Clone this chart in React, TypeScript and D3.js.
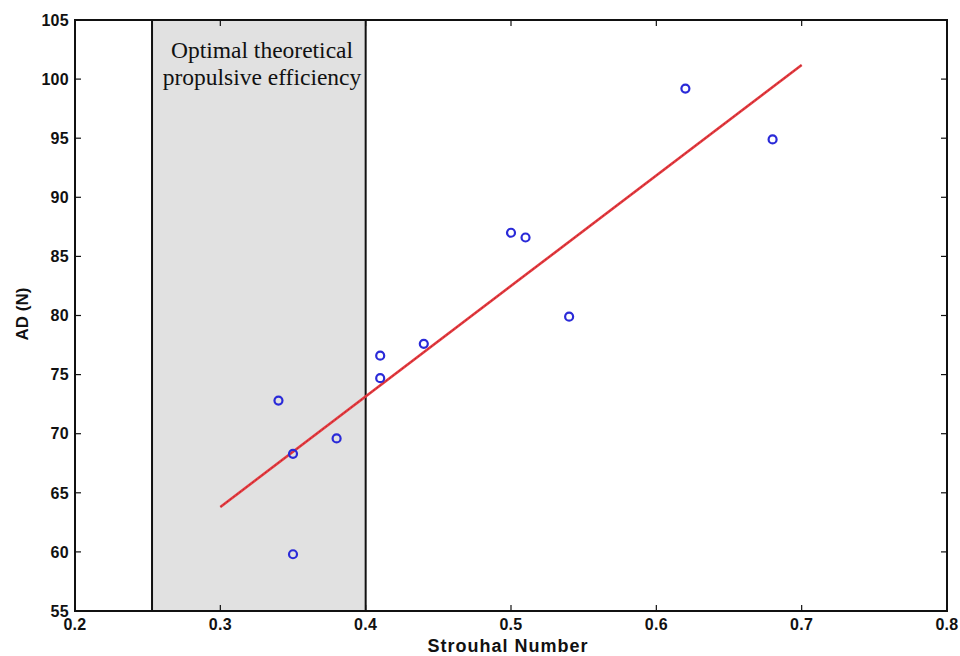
import React, { useEffect, useRef } from "react";
import * as d3 from "d3";

// Measured samples: Strouhal number vs. AD (N)
const strouhal = [0.34, 0.35, 0.35, 0.38, 0.41, 0.41, 0.44, 0.5, 0.51, 0.54, 0.62, 0.68];
const adForce = [72.8, 68.3, 59.8, 69.6, 76.6, 74.7, 77.6, 87.0, 86.6, 79.9, 99.2, 94.9];

// Linear fit endpoints
const fitX = [0.3, 0.7];
const fitY = [63.8, 101.2];

// Optimal efficiency band
const bandX = [0.253, 0.4];

const xTicks = [0.2, 0.3, 0.4, 0.5, 0.6, 0.7, 0.8];
const yTicks = [55, 60, 65, 70, 75, 80, 85, 90, 95, 100, 105];

const W = 960;
const H = 656;
const M = { left: 75, right: 13, top: 20, bottom: 45 };

export default function App() {
  const ref = useRef<SVGSVGElement>(null);

  useEffect(() => {
    const svg = d3.select(ref.current);
    svg.selectAll("*").remove();

    const x = d3.scaleLinear().domain([0.2, 0.8]).range([M.left, W - M.right]);
    const y = d3.scaleLinear().domain([55, 105]).range([H - M.bottom, M.top]);

    const x0 = x.range()[0], x1 = x.range()[1];
    const y0 = y.range()[0], y1 = y.range()[1];

    svg.append("rect").attr("x", 0).attr("y", 0).attr("width", W).attr("height", H).attr("fill", "#fff");

    // Shaded band
    svg
      .append("rect")
      .attr("x", x(bandX[0]))
      .attr("y", y1)
      .attr("width", x(bandX[1]) - x(bandX[0]))
      .attr("height", y0 - y1)
      .attr("fill", "#e1e1e1")
      .attr("stroke", "none");
    bandX.forEach((b) =>
      svg
        .append("line")
        .attr("x1", x(b))
        .attr("x2", x(b))
        .attr("y1", y1)
        .attr("y2", y0)
        .attr("stroke", "#111")
        .attr("stroke-width", 2)
    );

    // Band label
    const lbl = svg
      .append("text")
      .attr("font-family", "'Liberation Serif', 'Times New Roman', serif")
      .attr("font-size", 23.5)
      .attr("fill", "#111")
      .attr("text-anchor", "middle");
    lbl.append("tspan").attr("x", 262).attr("y", 58).text("Optimal theoretical");
    lbl.append("tspan").attr("x", 262).attr("y", 85).text("propulsive efficiency");

    // Fit line
    const line = d3
      .line<number>()
      .x((_, i) => x(fitX[i]))
      .y((d) => y(d));
    svg
      .append("path")
      .attr("d", line(fitY))
      .attr("fill", "none")
      .attr("stroke", "#e8393f")
      .attr("stroke-width", 2.6);
    svg
      .append("path")
      .attr("d", line(fitY))
      .attr("fill", "none")
      .attr("stroke", "#8a2a2a")
      .attr("stroke-width", 1)
      .attr("stroke-dasharray", "2,2")
      .attr("opacity", 0.6);

    // Data markers
    svg
      .append("g")
      .selectAll("circle")
      .data(strouhal)
      .join("circle")
      .attr("cx", (d) => x(d))
      .attr("cy", (_, i) => y(adForce[i]))
      .attr("r", 4)
      .attr("fill", "none")
      .attr("stroke", "#2a2ad8")
      .attr("stroke-width", 2.2);

    // Axes box
    svg
      .append("rect")
      .attr("x", x0)
      .attr("y", y1)
      .attr("width", x1 - x0)
      .attr("height", y0 - y1)
      .attr("fill", "none")
      .attr("stroke", "#111")
      .attr("stroke-width", 2);

    const tickLen = 6;
    const font = "'Liberation Sans', Arial, sans-serif";

    // X ticks (inward top and bottom) and labels
    const gx = svg.append("g");
    xTicks.forEach((t) => {
      gx.append("line").attr("x1", x(t)).attr("x2", x(t)).attr("y1", y0).attr("y2", y0 - tickLen).attr("stroke", "#111").attr("stroke-width", 1.2);
      gx.append("line").attr("x1", x(t)).attr("x2", x(t)).attr("y1", y1).attr("y2", y1 + tickLen).attr("stroke", "#111").attr("stroke-width", 1.2);
      gx.append("text")
        .attr("x", x(t))
        .attr("y", y0 + 19)
        .attr("text-anchor", "middle")
        .attr("font-family", font)
        .attr("font-weight", "bold")
        .attr("font-size", 16)
        .attr("letter-spacing", 0.3)
        .attr("fill", "#111")
        .text(d3.format(".1f")(t));
    });

    // Y ticks (inward left and right) and labels
    const gy = svg.append("g");
    yTicks.forEach((t) => {
      gy.append("line").attr("x1", x0).attr("x2", x0 + tickLen).attr("y1", y(t)).attr("y2", y(t)).attr("stroke", "#111").attr("stroke-width", 1.2);
      gy.append("line").attr("x1", x1).attr("x2", x1 - tickLen).attr("y1", y(t)).attr("y2", y(t)).attr("stroke", "#111").attr("stroke-width", 1.2);
      gy.append("text")
        .attr("x", x0 - 6)
        .attr("y", y(t))
        .attr("dy", "0.36em")
        .attr("text-anchor", "end")
        .attr("font-family", font)
        .attr("font-weight", "bold")
        .attr("font-size", 16)
        .attr("letter-spacing", 0.3)
        .attr("fill", "#111")
        .text(String(t));
    });

    // Axis titles
    svg
      .append("text")
      .attr("x", 508)
      .attr("y", 652)
      .attr("text-anchor", "middle")
      .attr("font-family", font)
      .attr("font-weight", "bold")
      .attr("font-size", 18)
      .attr("letter-spacing", 1)
      .attr("fill", "#111")
      .text("Strouhal Number");

    svg
      .append("text")
      .attr("transform", `translate(28,314) rotate(-90)`)
      .attr("text-anchor", "middle")
      .attr("font-family", font)
      .attr("font-weight", "bold")
      .attr("font-size", 17)
      .attr("fill", "#111")
      .text("AD (N)");
  }, []);

  return (
    <svg
      ref={ref}
      width={W}
      height={H}
      style={{ position: "absolute", left: 0, top: 0, display: "block" }}
    />
  );
}
